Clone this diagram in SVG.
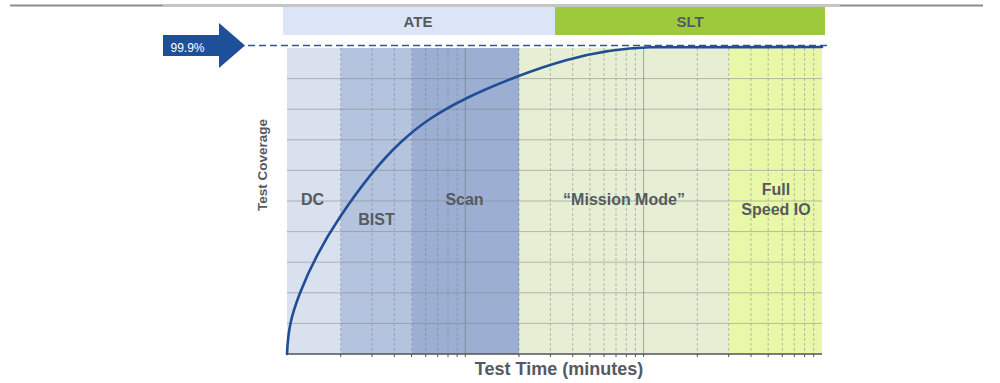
<svg xmlns="http://www.w3.org/2000/svg" width="1000" height="383" viewBox="0 0 1000 383">
  <style>
    .lbl { font-family: "Liberation Sans", Arial, sans-serif; font-weight: bold; fill: #555a5f; }
    .band { font-size: 15px; text-anchor: middle; }
    .zone { font-size: 16px; text-anchor: middle; }
    .grid-h { stroke: #7b828a; stroke-width: 1; stroke-opacity: 0.5; }
    .grid-v { stroke: #7b828a; stroke-width: 1; stroke-opacity: 0.5; stroke-dasharray: 3 2; }
    .grid-dec { stroke: #6e757d; stroke-width: 1; stroke-opacity: 0.6; }
    .tick { stroke: #555; stroke-width: 1; }
  </style>

  <!-- header rule -->
  <line x1="10" y1="5.5" x2="983" y2="5.5" stroke="#8c8c8c" stroke-width="2"/>
  <line x1="163" y1="5.5" x2="840" y2="5.5" stroke="#c6c6c6" stroke-width="2"/>

  <!-- phase bands -->
  <g id="band-ate">
    <rect x="283" y="7" width="272" height="28" fill="#dce5f5"/>
    <text class="lbl band" x="418" y="26.5">ATE</text>
  </g>
  <g id="band-slt">
    <rect x="555" y="7" width="270" height="28" fill="#9dca3c"/>
    <text class="lbl band" x="690" y="26.5">SLT</text>
  </g>

  <!-- coverage zones -->
  <g id="zone-dc">
    <rect x="287" y="48" width="53.7" height="306" fill="#d9e0ee"/>
  </g>
  <g id="zone-bist">
    <rect x="340.7" y="48" width="70.9" height="306" fill="#b4c3de"/>
  </g>
  <g id="zone-scan">
    <rect x="411.6" y="48" width="107.4" height="306" fill="#9cafd3"/>
  </g>
  <g id="zone-mission">
    <rect x="519" y="48" width="209.7" height="306" fill="#e6efd3"/>
  </g>
  <g id="zone-io">
    <rect x="728.7" y="48" width="93.3" height="306" fill="#e9f8a8"/>
  </g>

  <!-- grid: horizontal -->
  <g id="grid">
    <line class="grid-h" x1="287" y1="78.6" x2="822" y2="78.6"/>
    <line class="grid-h" x1="287" y1="109.2" x2="822" y2="109.2"/>
    <line class="grid-h" x1="287" y1="139.8" x2="822" y2="139.8"/>
    <line class="grid-h" x1="287" y1="170.4" x2="822" y2="170.4"/>
    <line class="grid-h" x1="287" y1="201" x2="822" y2="201"/>
    <line class="grid-h" x1="287" y1="231.6" x2="822" y2="231.6"/>
    <line class="grid-h" x1="287" y1="262.2" x2="822" y2="262.2"/>
    <line class="grid-h" x1="287" y1="292.8" x2="822" y2="292.8"/>
    <line class="grid-h" x1="287" y1="323.4" x2="822" y2="323.4"/>

    <!-- grid: vertical, log time scale (three decades) -->
    <line class="grid-v" x1="340.7" y1="48" x2="340.7" y2="354"/>
    <line class="grid-v" x1="372.1" y1="48" x2="372.1" y2="354"/>
    <line class="grid-v" x1="394.3" y1="48" x2="394.3" y2="354"/>
    <line class="grid-v" x1="411.6" y1="48" x2="411.6" y2="354"/>
    <line class="grid-v" x1="425.7" y1="48" x2="425.7" y2="354"/>
    <line class="grid-v" x1="437.7" y1="48" x2="437.7" y2="354"/>
    <line class="grid-v" x1="448" y1="48" x2="448" y2="354"/>
    <line class="grid-v" x1="457.1" y1="48" x2="457.1" y2="354"/>
    <line class="grid-dec" x1="465.3" y1="48" x2="465.3" y2="354"/>
    <line class="grid-v" x1="519" y1="48" x2="519" y2="354"/>
    <line class="grid-v" x1="550.4" y1="48" x2="550.4" y2="354"/>
    <line class="grid-v" x1="572.7" y1="48" x2="572.7" y2="354"/>
    <line class="grid-v" x1="589.9" y1="48" x2="589.9" y2="354"/>
    <line class="grid-v" x1="604" y1="48" x2="604" y2="354"/>
    <line class="grid-v" x1="616" y1="48" x2="616" y2="354"/>
    <line class="grid-v" x1="626.3" y1="48" x2="626.3" y2="354"/>
    <line class="grid-v" x1="635.4" y1="48" x2="635.4" y2="354"/>
    <line class="grid-dec" x1="643.6" y1="48" x2="643.6" y2="354"/>
    <line class="grid-v" x1="697.3" y1="48" x2="697.3" y2="354"/>
    <line class="grid-v" x1="728.7" y1="48" x2="728.7" y2="354"/>
    <line class="grid-v" x1="751" y1="48" x2="751" y2="354"/>
    <line class="grid-v" x1="768.2" y1="48" x2="768.2" y2="354"/>
    <line class="grid-v" x1="782.3" y1="48" x2="782.3" y2="354"/>
    <line class="grid-v" x1="794.3" y1="48" x2="794.3" y2="354"/>
    <line class="grid-v" x1="804.6" y1="48" x2="804.6" y2="354"/>
    <line class="grid-v" x1="813.7" y1="48" x2="813.7" y2="354"/>
  </g>

  <!-- x axis and ticks -->
  <g id="axis-x">
    <line x1="286" y1="354" x2="822" y2="354" stroke="#505357" stroke-width="1.6"/>
    <path class="tick" d="M340.7 354v3M372.1 354v3M394.3 354v3M411.6 354v3M425.7 354v3M437.7 354v3M448 354v3M457.1 354v3M465.3 354v3M519 354v3M550.4 354v3M572.7 354v3M589.9 354v3M604 354v3M616 354v3M626.3 354v3M635.4 354v3M643.6 354v3M697.3 354v3M728.7 354v3M751 354v3M768.2 354v3M782.3 354v3M794.3 354v3M804.6 354v3M813.7 354v3"/>
    <text class="lbl" x="559" y="375" font-size="18" text-anchor="middle" fill="#4a4d50">Test Time (minutes)</text>
  </g>

  <!-- y axis title -->
  <g id="axis-y">
    <text class="lbl" transform="translate(267 165) rotate(-90)" font-size="13.5" text-anchor="middle" fill="#4a4d50">Test Coverage</text>
  </g>

  <!-- zone labels -->
  <g id="labels">
    <text class="lbl zone" x="312.5" y="204.5">DC</text>
    <text class="lbl zone" x="376.5" y="224.5">BIST</text>
    <text class="lbl zone" x="464.5" y="204.5">Scan</text>
    <text class="lbl zone" x="624" y="204.5">“Mission Mode”</text>
    <text class="lbl zone" x="776" y="195">Full</text>
    <text class="lbl zone" x="776" y="215">Speed IO</text>
  </g>

  <!-- connectors: target marker and coverage curve -->
  <g id="connectors">
    <line x1="248" y1="45.5" x2="831" y2="45.5" stroke="#3a5686" stroke-width="1.6" stroke-dasharray="7 4"/>
    <path d="M287 354 C288 330 291.2 315.7 300 293 C308.8 270.3 323.3 242 340 217 C356.7 192 378.8 162.8 400 143 C421.2 123.2 439.2 111.8 467 98 C494.8 84.2 536.5 68.4 567 60 C597.5 51.6 625 48 650 47.3 L822 47"
          fill="none" stroke="#1f4e96" stroke-width="2.6" stroke-linecap="round"/>
  </g>

  <!-- 99.9% target arrow -->
  <g id="target-arrow">
    <polygon points="163,35 219,35 219,23 245,45.5 219,68 219,56 163,56" fill="#1e4f99"/>
    <text x="170.5" y="51.5" font-family="'Liberation Sans', Arial, sans-serif" font-size="12" fill="#ffffff">99.9%</text>
  </g>
</svg>
